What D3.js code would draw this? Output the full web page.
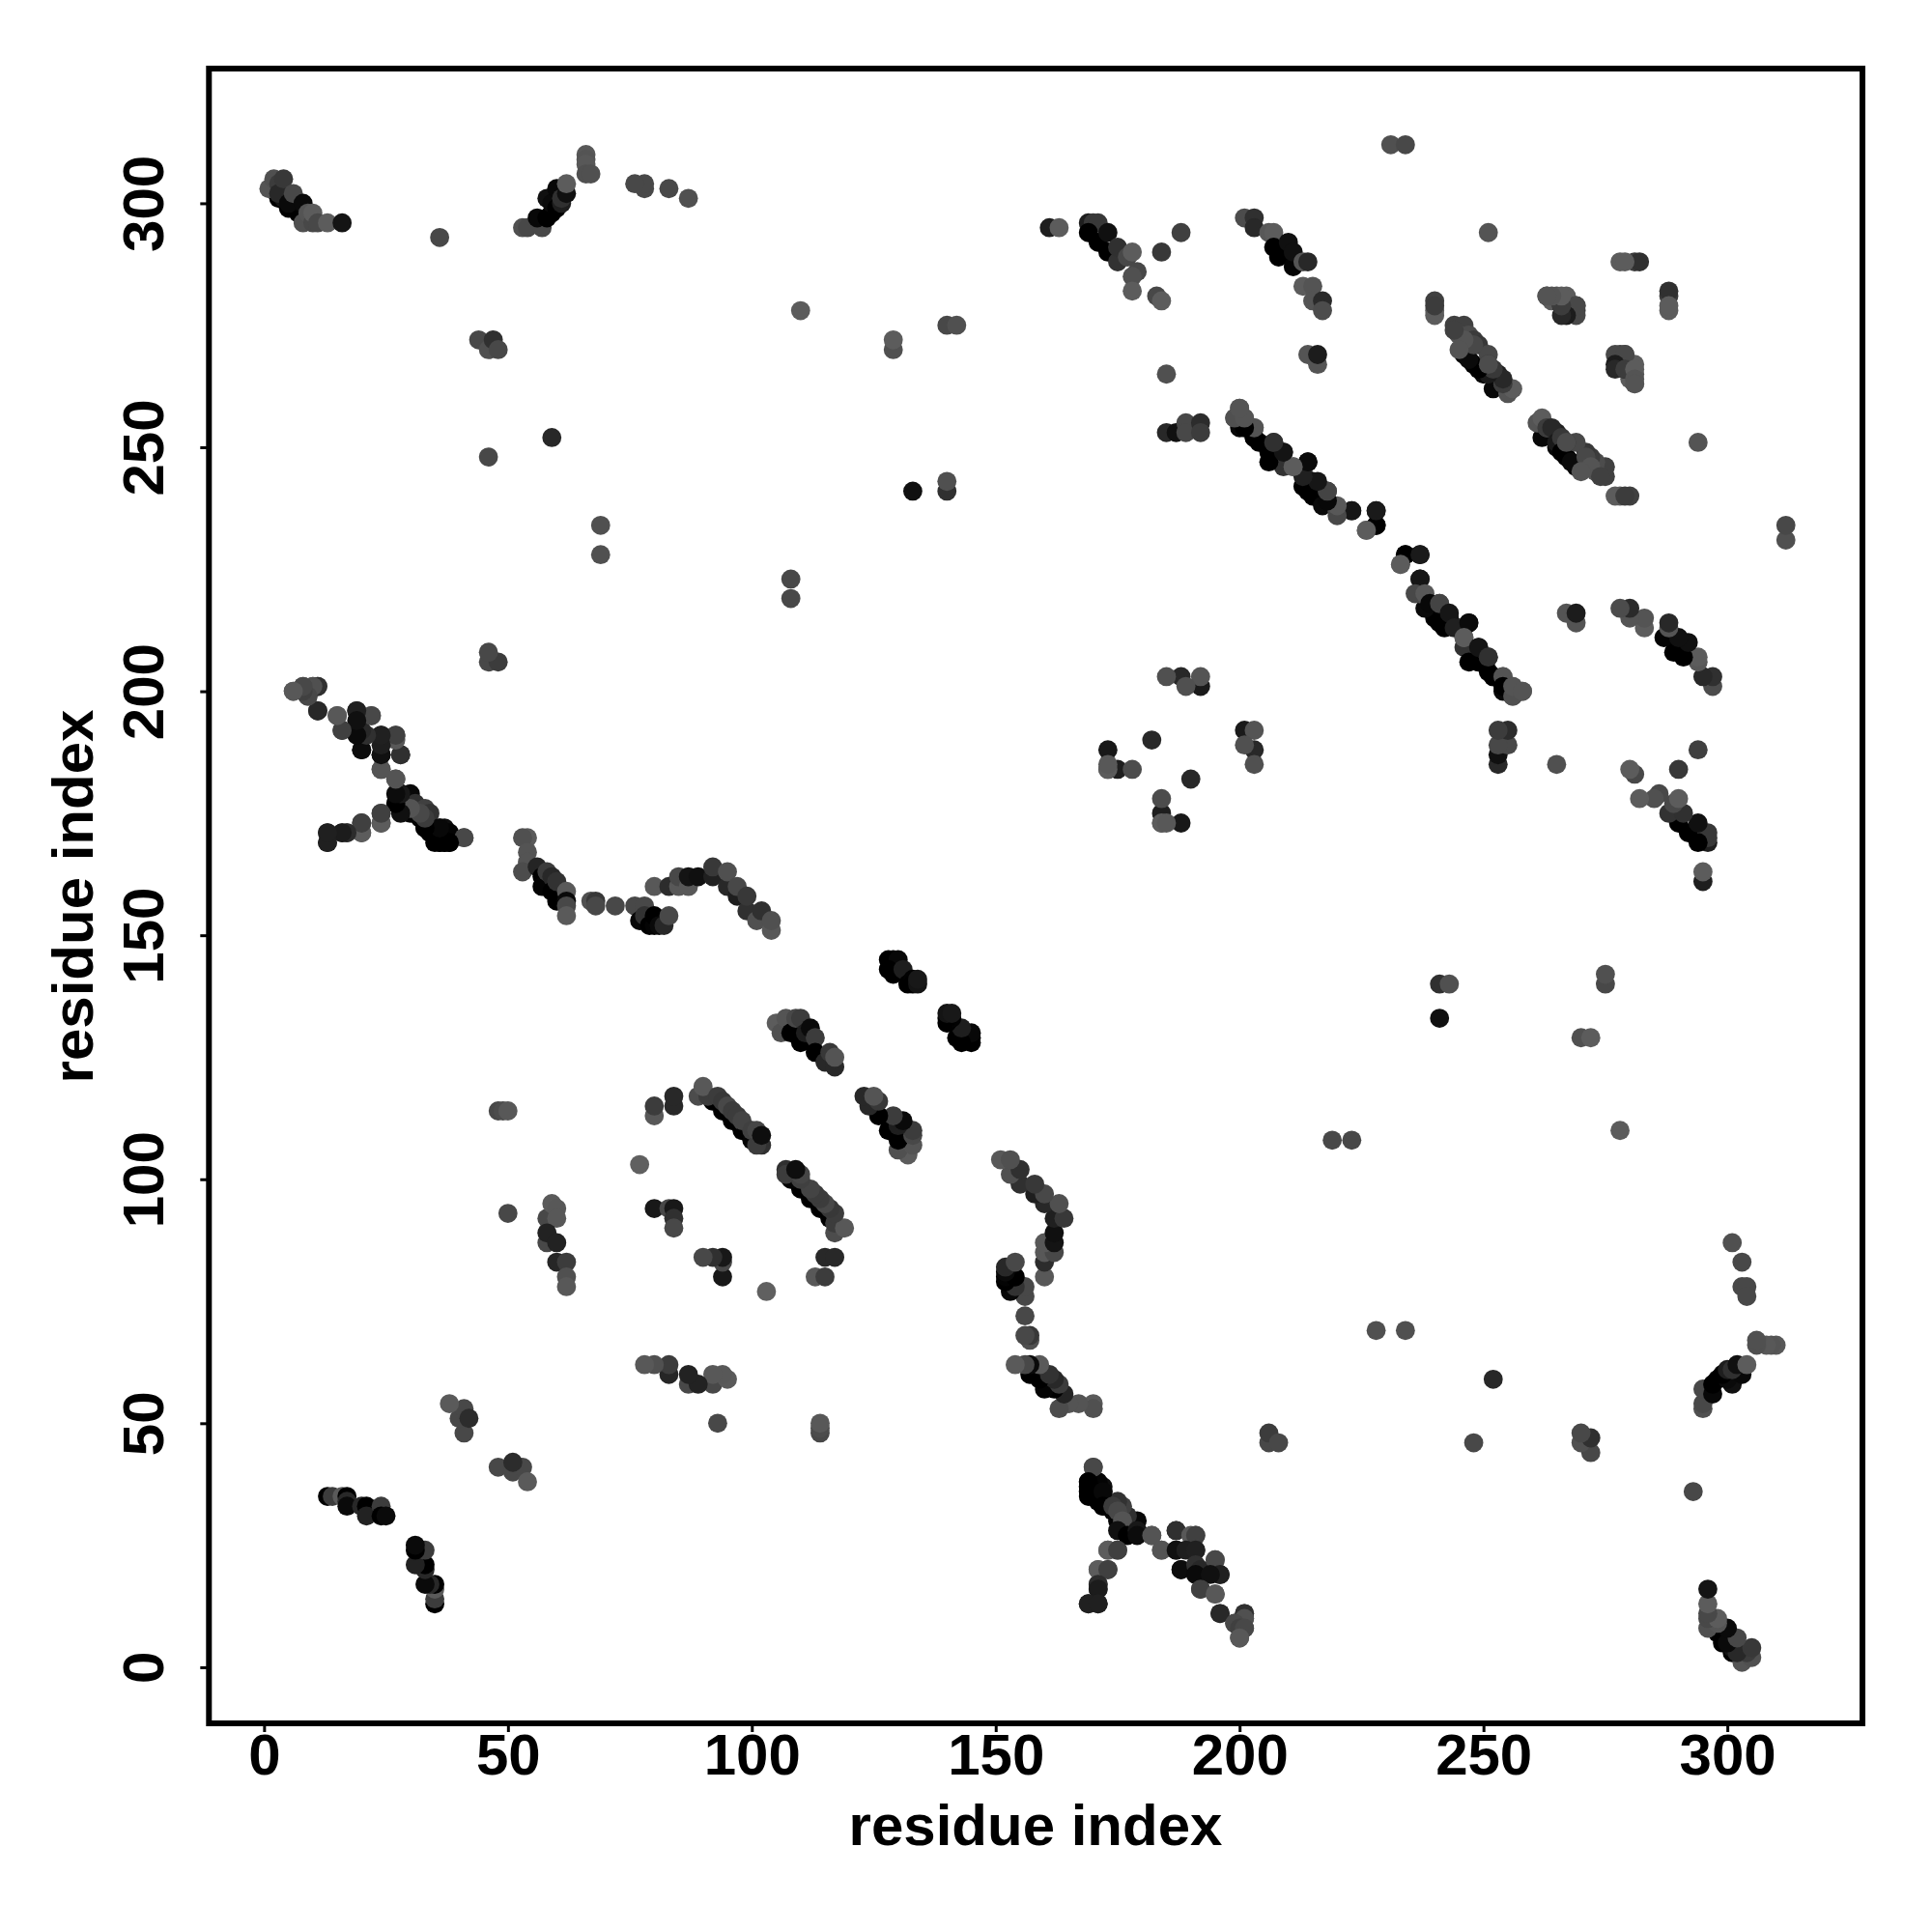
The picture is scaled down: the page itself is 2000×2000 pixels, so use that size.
<!DOCTYPE html>
<html><head><meta charset="utf-8">
<script src="https://cdn.jsdelivr.net/npm/d3@7"></script>
<style>html,body{margin:0;padding:0;background:#fff}svg{display:block}text{font-family:"Liberation Sans",Arial,sans-serif;font-weight:700;fill:#000}</style>
</head><body><div id="chart"></div>
<script>
const xLabel = "residue index";
const yLabel = "residue index";
const tickValues = [0, 50, 100, 150, 200, 250, 300];
// contacts: [residue i, residue j, grey level]; the map is symmetric, so each is drawn at (i,j) and (j,i)
const terminiContacts = [
[3,301,0],[5,299,0],[7,298,0],[6,299,0],[4,301,20],[1,303,84],[2,305,80],[3,304,60],[3,302,40],[4,305,56],[5,300,10],[6,302,72],[8,300,10],[8,296,80],[9,298,84],[10,296,72],[10,298,92],[11,296,72],[13,296,92],[16,296,20],
[36,293,72],[44,272,72],[46,270,80],[47,272,48],[48,270,72],[46,248,72],[59,252,40],[46,206,72],[48,206,60],[46,208,72]];
const nTermContacts = [
[13,35,0],[14,35,60],[16,35,90],[17,35,0],[17,34,40],[17,33,10],[20,33,40],[21,33,0],[21,31,34],[24,33,60],[24,31,0],[25,31,10],
[41,48,72],[40,51,72],[41,53,72],[42,51,44],[38,54,90],
[6,200,88],[8,201,80],[9,199,64],[10,201,72],[11,201,48],[11,196,40],[15,195,88],[19,196,28],[22,195,84],[16,192,64],[19,192,20],[20,188,8],[24,191,24],[27,191,80],[24,187,20],[28,187,48],[24,184,80],[27,182,84],[28,178,64],
[28,179,8],[30,179,8],[29,177,10],[30,175,4],[31,177,48],[32,174,4],[33,176,64],[33,172,0],[34,175,50],[35,171,0],[36,169,0],[36,172,20],[37,169,0],[38,169,0],[37,172,14],[38,171,4],[41,170,84],
[13,171,36],[13,169,36],[16,171,50],[17,171,56],[20,171,84],[20,173,56],[24,173,84],[24,175,72]];
const strandContacts = [
[54,170,90],[53,170,80],[54,167,84],[54,165,84],[53,163,76],[56,164,36],[57,162,0],[57,160,4],[58,163,60],[59,162,40],[59,159,0],[60,161,50],[60,157,0],[62,159,90],[62,157,10],[62,156,72],[62,154,90],
[67,157,80],[68,157,56],[68,156,72],[72,156,72],
[76,156,72],[77,153,8],[78,156,72],[78,154,50],[79,152,0],[80,152,4],[80,154,0],[81,152,10],[82,152,40],[83,154,72],
[80,160,88],[83,160,44],[85,160,88],[85,162,72],[87,160,88],[87,162,20],[89,162,16],[92,162,32],[92,164,56],[95,160,40],[95,163,80],[97,158,30],[97,160,72],[99,155,48],[99,158,56],[101,153,80],[102,155,48],[104,151,88],[104,153,80],
[58,92,72],[59,95,90],[60,94,88],[60,92,88],[58,87,72],[58,89,34],[60,87,34],[60,83,38],[62,83,60],[62,80,80],[62,78,88],
[50,93,72],[77,103,96],[48,114,72],[49,114,76],[50,114,88],[80,113,88],[80,115,60],[84,115,40],[84,117,40],
[80,94,24],[83,94,72],[84,94,24],[84,92,48],[84,90,72]];
const sheetContacts = [
[89,117,76],[92,116,0],[94,114,0],[96,112,0],[98,110,0],[100,108,4],[102,107,48],[91,117,60],[90,119,88],[93,117,60],[94,116,56],[95,115,72],[96,114,60],[97,113,60],[98,112,68],[100,110,64],[101,107,60],[101,110,70],[102,109,14],
[105,132,92],[106,130,80],[107,133,84],[108,130,0],[109,133,72],[110,133,60],[110,128,0],[111,130,30],[112,131,10],[113,129,60],[113,126,0],[115,124,40],[116,126,56],[117,123,40],[117,125,84],
[128,145,0],[129,145,0],[130,145,8],[128,143,0],[129,142,0],[131,143,30],[132,140,0],[133,141,2],[133,140,0],[134,140,20],[134,141,24]];
const barrelContacts = [
[161,295,30],[163,295,92],[169,296,30],[170,296,56],[171,296,56],[169,294,0],[171,292,0],[173,290,0],[175,288,50],[173,294,16],[175,291,48],[177,289,72],[178,290,92],[179,286,72],[178,285,80],[178,282,92],[184,290,56],[188,294,64],[183,281,72],[184,280,92],[185,265,80],
[185,253,40],[187,253,16],[189,255,72],[189,253,72],[192,255,44],[192,253,60],
[201,297,76],[203,297,48],[203,295,40],[206,294,88],[207,294,92],[207,291,0],[208,289,0],[211,287,4],[210,292,16],[211,290,16],[213,288,84],[214,288,40],[213,283,92],[215,283,84],[215,280,84],[217,280,42],[217,278,76],
[214,269,84],[216,267,84],[216,269,28],
[200,258,92],[199,256,84],[201,256,92],[200,254,8],[203,252,0],[203,254,92],[206,249,0],[207,251,50],[209,249,30],[209,246,50],[211,246,92],[213,242,0],[214,247,18],[213,245,48],[215,240,0],[215,243,22],[217,238,10],[218,241,60],[220,237,84],[223,237,26],[228,237,22],[228,234,0],[226,233,92]];
const lateContacts = [
[228,234,0],[226,233,92],[228,237,26],[223,237,22],[220,236,72],[220,238,88],[218,239,8],[214,241,0],[218,241,68],[216,243,22],[213,244,32],[214,247,10],[211,246,92],[206,247,0],[209,249,20],[204,251,0],[207,251,48],[203,252,0],[203,254,84],[201,254,0],[199,256,80],[201,256,84],[200,258,84],
[240,280,64],[240,278,92],[244,275,64],[246,275,64],[245,273,84],[247,273,76],[246,269,0],[248,267,0],[250,265,8],[252,262,8],[248,272,60],[249,271,56],[251,269,72],[251,267,50],[253,265,32],[254,263,76],[255,262,92],
[263,281,92],[264,280,92],[265,281,84],[267,281,92],[266,279,20],[267,278,16],[268,278,48],[269,279,60],[269,278,60],
[278,288,92],[281,288,60],[282,288,48],[279,288,92],[269,277,72],[269,279,72],[267,277,28],[266,277,40],[266,279,60],[266,281,92],[264,281,84],[263,281,84],[251,294,84],
[255,261,84],[256,262,92],[254,263,60],[254,264,40],[251,265,26],[252,266,56],[249,266,0],[247,268,10],[251,267,76],[248,271,72],[246,272,84],[245,270,84],[244,274,64],[240,277,92],[240,279,60]];
const remoteContacts = [
[231,312,80],[234,312,72],[69,228,80],[69,234,80],[108,219,72],[108,223,72],[110,278,92],[129,270,80],[129,272,92],[140,275,72],[142,275,80],[133,241,16],[140,241,48],[140,243,80],
[87,301,80],[83,303,72],[78,303,72],[78,304,72],[76,304,72],[66,310,88],[66,309,84],[66,308,88],[66,306,80],[67,306,80],
[53,295,80],[54,295,72],[57,295,72],[56,297,8],[58,297,0],[59,298,0],[58,301,16],[59,300,10],[60,299,0],[60,303,8],[61,300,30],[61,301,48],[62,302,16],[62,304,92],
[173,188,24],[173,184,84],[175,184,30],[178,184,76],[182,190,40],[173,184,92],[173,185,88],
[192,201,26],[192,203,84],[188,203,40],[189,201,80],[185,203,80],
[41,170,72],[38,169,0],[37,169,0],[36,169,0],[35,169,0],[36,170,0],[34,171,0],[36,172,8],[33,172,0],[33,174,60],[32,175,72],[30,176,84],[28,175,16],[27,177,0],[28,179,24],[27,179,12],[27,182,84],[24,184,84],
[24,173,92],[24,175,64],[20,171,92],[20,173,64],[17,171,44],[16,171,28],[13,169,32],[13,171,32],
[28,187,48],[27,190,88],[27,191,64],[24,187,16],[24,189,30],[24,191,32],[20,188,12],[21,191,48],[20,192,40],[19,191,10],[22,195,72],[19,196,32],[19,194,16],[16,192,64],[15,195,88],[11,196,40],[11,201,48],[10,201,80],[9,199,72],[8,200,64],[8,201,72],[6,200,88]];
const contactGroups = [terminiContacts, nTermContacts, strandContacts, sheetContacts, barrelContacts, lateContacts, remoteContacts];

const W = 2000, H = 2000;
const x = d3.scaleLinear().domain([-11.3, 327.7]).range([216.3, 1928]);
const y = d3.scaleLinear().domain([-11.5, 327.6]).range([1784, 71]);
const svg = d3.select("#chart").append("svg").attr("width", W).attr("height", H);
svg.append("rect").attr("width", W).attr("height", H).attr("fill", "#fff");

const contacts = contactGroups.flat();
const pts = svg.append("g");
pts.selectAll("circle.a").data(contacts).join("circle").attr("class","a")
  .attr("cx", d => x(d[0])).attr("cy", d => y(d[1])).attr("r", 9.9)
  .attr("fill", d => d3.rgb(d[2], d[2], d[2]));
pts.selectAll("circle.b").data(contacts).join("circle").attr("class","b")
  .attr("cx", d => x(d[1])).attr("cy", d => y(d[0])).attr("r", 9.9)
  .attr("fill", d => d3.rgb(d[2], d[2], d[2]));

const gx = svg.append("g").attr("transform", "translate(0,1784)")
  .call(d3.axisBottom(x).tickValues(tickValues).tickSize(9).tickPadding(8));
const gy = svg.append("g").attr("transform", "translate(216.3,0)")
  .call(d3.axisLeft(y).tickValues(tickValues).tickSize(9).tickPadding(8));
[gx, gy].forEach(g => {
  g.select(".domain").remove();
  g.selectAll("line").attr("stroke", "#000").attr("stroke-width", 3);
  g.selectAll("text").style("font-size", "60px").style("font-family", '"Liberation Sans"').style("font-weight", 700);
});
gx.selectAll("text").attr("y", 0).attr("dy", 0).attr("transform", "translate(0,37)").attr("text-anchor","middle").attr("dominant-baseline","middle");
gy.selectAll("text").attr("x", 0).attr("dy", 0).attr("text-anchor","middle").attr("dominant-baseline","middle")
  .attr("transform", function(){ return "translate(-63,0) rotate(-90)"; });

svg.append("rect").attr("x", 216.3).attr("y", 71).attr("width", 1711.7).attr("height", 1713)
  .attr("fill", "none").attr("stroke", "#000").attr("stroke-width", 6);

svg.append("text").attr("x", 1072).attr("y", 1894).attr("text-anchor", "middle").attr("dominant-baseline","middle")
  .style("font-size", "60px").text(xLabel);
svg.append("text").attr("transform", "translate(80,928) rotate(-90)").attr("text-anchor", "middle").attr("dominant-baseline","middle")
  .style("font-size", "60px").text(yLabel);
</script></body></html>
